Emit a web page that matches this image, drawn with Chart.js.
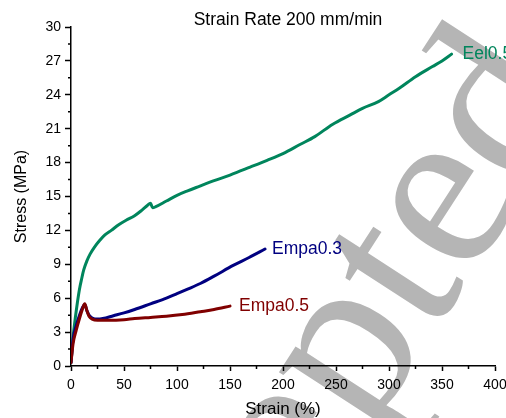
<!DOCTYPE html>
<html>
<head>
<meta charset="utf-8">
<script src="https://cdn.jsdelivr.net/npm/chart.js@4.4.1/dist/chart.umd.min.js"></script>
<style>
  html, body { margin: 0; padding: 0; background: #fff; }
  #wrap { width: 506px; height: 418px; }
</style>
</head>
<body>
<div id="wrap"><canvas id="stressChart"></canvas></div>
<script>
// values
let eelStrain = [0, 2, 4, 6, 8, 10, 12, 15, 18, 22, 27, 32, 38, 45, 52, 60, 67, 72, 75, 77, 80, 90, 100, 110, 121, 135, 150, 169, 185, 200, 216, 230, 247, 263, 275, 290, 300, 310, 325, 341, 350, 359];
let eelStress = [0.3, 2.6, 4.2, 5.6, 6.8, 7.7, 8.5, 9.3, 9.9, 10.5, 11.1, 11.6, 12.0, 12.5, 12.9, 13.3, 13.8, 14.2, 14.4, 14.0, 14.1, 14.6, 15.1, 15.5, 15.9, 16.4, 16.9, 17.6, 18.2, 18.8, 19.6, 20.3, 21.4, 22.2, 22.8, 23.4, 24.0, 24.6, 25.6, 26.5, 27.0, 27.6];

let empa3Strain = [0, 2, 5, 8, 11, 13, 15, 17, 20, 25, 30, 40, 50, 60, 75, 90, 100, 110, 122, 135, 153, 168, 183];
let empa3Stress = [0.3, 2.4, 3.6, 4.5, 5.2, 5.45, 4.9, 4.5, 4.25, 4.15, 4.2, 4.45, 4.7, 5.0, 5.5, 6.0, 6.4, 6.8, 7.3, 7.95, 8.9, 9.6, 10.35];

let empa5Strain = [0, 2, 5, 8, 11, 13, 15, 17, 20, 25, 35, 50, 60, 75, 90, 105, 122, 135, 150];
let empa5Stress = [0.3, 2.0, 3.2, 4.2, 5.1, 5.5, 4.9, 4.4, 4.15, 4.05, 4.05, 4.1, 4.2, 4.3, 4.4, 4.55, 4.8, 5.0, 5.3];

let seriesNames = ["Eel0.5", "Empa0.3", "Empa0.5"];
let seriesColors = ["#00855c", "#000080", "#800000"];

let xTickValues = [0, 50, 100, 150, 200, 250, 300, 350, 400];
let yTickValues = [0, 3, 6, 9, 12, 15, 18, 21, 24, 27, 30];
let xMinorValues = [25, 75, 125, 175, 225, 275, 325, 375];
let yMinorValues = [1.5, 4.5, 7.5, 10.5, 13.5, 16.5, 19.5, 22.5, 25.5, 28.5];

let chartTitle = "Strain Rate 200 mm/min";
let xTitle = "Strain (%)";
let yTitle = "Stress (MPa)";
let stampText = "Accepted";

let fontName = "'Liberation Sans', Arial, sans-serif";

function toPoints(xs, ys) {
    let pts = [];
    for (let i = 0; i < xs.length; i++) {
        pts.push({x: xs[i], y: ys[i]});
    }
    return pts;
}

// grey stamp behind everything
let stampPlugin = {
    id: "stamp",
    beforeDraw: function (chart) {
        let ctx = chart.ctx;
        ctx.save();
        ctx.fillStyle = "#fff";
        ctx.fillRect(0, 0, chart.width, chart.height);
        let size = 236;
        ctx.font = size + "px 'Liberation Serif', 'Times New Roman', serif";
        ctx.fillStyle = "#b5b5b5";
        let w1 = ctx.measureText("Accept").width;
        let we = ctx.measureText("e").width;
        ctx.translate(450, 208);
        ctx.rotate(-57 * Math.PI / 180);
        ctx.textBaseline = "alphabetic";
        ctx.textAlign = "left";
        ctx.fillText(stampText, -(w1 + we / 2), 0.23 * size);
        ctx.restore();
    }
};

// title, minor ticks and the curve names
let extrasPlugin = {
    id: "extras",
    afterDraw: function (chart) {
        let ctx = chart.ctx;
        let xs = chart.scales.x;
        let ys = chart.scales.y;
        let area = chart.chartArea;
        ctx.save();
        ctx.strokeStyle = "#000";
        ctx.lineWidth = 1.5;
        ctx.beginPath();
        for (let v of xMinorValues) {
            let px = xs.getPixelForValue(v);
            ctx.moveTo(px, area.bottom);
            ctx.lineTo(px, area.bottom + 3);
        }
        for (let v of yMinorValues) {
            let py = ys.getPixelForValue(v);
            ctx.moveTo(area.left, py);
            ctx.lineTo(area.left - 3, py);
        }
        ctx.stroke();

        ctx.fillStyle = "#000";
        ctx.font = "17.5px " + fontName;
        ctx.textAlign = "center";
        ctx.textBaseline = "middle";
        ctx.fillText(chartTitle, (area.left + area.right) / 2 + 5, 20);

        ctx.textAlign = "left";
        let offsets = [11, 7, 9];
        for (let i = 0; i < chart.data.datasets.length; i++) {
            let pts = chart.getDatasetMeta(i).data;
            let last = pts[pts.length - 1];
            ctx.fillStyle = seriesColors[i];
            ctx.fillText(seriesNames[i], last.x + offsets[i], last.y);
        }
        ctx.restore();
    }
};

new Chart(document.getElementById("stressChart"), {
    type: "line",
    data: {
        datasets: [{
            label: seriesNames[0],
            data: toPoints(eelStrain, eelStress),
            borderColor: seriesColors[0],
            order: 2
        }, {
            label: seriesNames[1],
            data: toPoints(empa3Strain, empa3Stress),
            borderColor: seriesColors[1],
            order: 1
        }, {
            label: seriesNames[2],
            data: toPoints(empa5Strain, empa5Stress),
            borderColor: seriesColors[2],
            order: 0
        }]
    },
    options: {
        responsive: true,
        maintainAspectRatio: false,
        animation: false,
        devicePixelRatio: 1,
        elements: {
            line: {borderWidth: 3, cubicInterpolationMode: "monotone", fill: false, borderCapStyle: "round"},
            point: {radius: 0}
        },
        layout: {padding: {left: 0, top: 27, right: 11, bottom: 0}},
        plugins: {
            legend: {display: false},
            tooltip: {enabled: false}
        },
        scales: {
            x: {
                type: "linear",
                min: 0,
                max: 400,
                afterBuildTicks: function (s) {
                    s.ticks = xTickValues.map(v => ({value: v}));
                },
                afterFit: function (s) {
                    s.height = 52;
                    s.paddingLeft = 0;
                    s.paddingRight = 0;
                },
                ticks: {color: "#000", font: {size: 14, family: fontName}, padding: 6, maxRotation: 0},
                grid: {drawOnChartArea: false, drawTicks: true, tickLength: 5, color: "#000", tickWidth: 1.5},
                border: {display: true, color: "#000", width: 1.5},
                title: {display: true, text: xTitle, color: "#000", font: {size: 17, family: fontName}, padding: {top: 0, bottom: -2}}
            },
            y: {
                type: "linear",
                min: 0,
                max: 30,
                afterBuildTicks: function (s) {
                    s.ticks = yTickValues.map(v => ({value: v}));
                },
                afterFit: function (s) {
                    s.width = 71;
                    s.paddingTop = 0;
                    s.paddingBottom = 0;
                },
                ticks: {color: "#000", font: {size: 14, family: fontName}, padding: 4},
                grid: {drawOnChartArea: false, drawTicks: true, tickLength: 6, color: "#000", tickWidth: 1.5},
                border: {display: true, color: "#000", width: 1.5},
                title: {display: true, text: yTitle, color: "#000", font: {size: 16, family: fontName}, padding: {top: 12, bottom: 0}}
            }
        }
    },
    plugins: [stampPlugin, extrasPlugin]
});
</script>
</body>
</html>
